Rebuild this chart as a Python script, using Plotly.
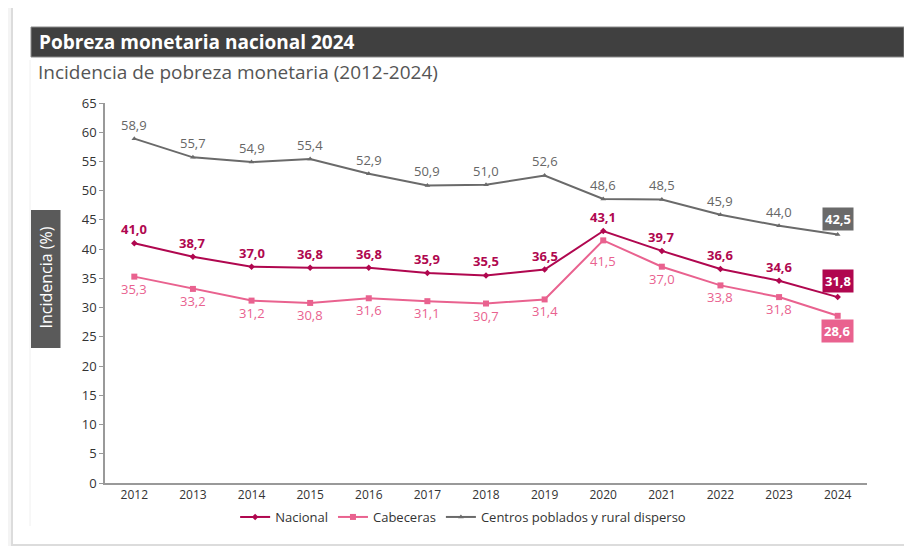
import plotly.graph_objects as go

years = ["2012", "2013", "2014", "2015", "2016", "2017", "2018", "2019", "2020", "2021", "2022", "2023", "2024"]
nacional = [41.0, 38.7, 37.0, 36.8, 36.8, 35.9, 35.5, 36.5, 43.1, 39.7, 36.6, 34.6, 31.8]
cabeceras = [35.3, 33.2, 31.2, 30.8, 31.6, 31.1, 30.7, 31.4, 41.5, 37.0, 33.8, 31.8, 28.6]
centros = [58.9, 55.7, 54.9, 55.4, 52.9, 50.9, 51.0, 52.6, 48.6, 48.5, 45.9, 44.0, 42.5]
y_ticks = list(range(0, 70, 5))

C_NAC = "#b0074f"
C_CAB = "#e9628f"
C_CEN = "#6a6a6a"
FONT = "Open Sans"

OFF = 8  # page body margin
W, H = 912 - OFF, 546 - OFF
L = 105 - OFF
T = 103 - OFF
R = W - (867 - OFF)
B = H - (483 - OFF)
pw, ph = W - L - R, H - T - B


def px(x):
    return (x - OFF - L) / pw


def py(y):
    return 1 - (y - OFF - T) / ph


fig = go.Figure()
fig.add_trace(go.Scatter(x=years, y=nacional, name="Nacional", mode="lines+markers",
                         line=dict(color=C_NAC, width=2),
                         marker=dict(symbol="diamond", size=5, color=C_NAC)))
fig.add_trace(go.Scatter(x=years, y=cabeceras, name="Cabeceras", mode="lines+markers",
                         line=dict(color=C_CAB, width=2),
                         marker=dict(symbol="square", size=6, color=C_CAB)))
fig.add_trace(go.Scatter(x=years, y=centros, name="Centros poblados y rural disperso", mode="lines+markers",
                         line=dict(color=C_CEN, width=2),
                         marker=dict(symbol="triangle-up", size=5, color=C_CEN)))

ann = []


def fmt(v):
    return f"{v:.1f}".replace(".", ",")


last = len(years) - 1
peak = nacional.index(max(nacional))
for i, v in enumerate(nacional):
    if i == last:
        ann.append(dict(x=i, y=v, text=f"<b>{fmt(v)}</b>", showarrow=False, yshift=16,
                        bgcolor=C_NAC, borderpad=2, font=dict(family=FONT, size=13, color="white")))
    else:
        ann.append(dict(x=i, y=v, text=f"<b>{fmt(v)}</b>", showarrow=False, yshift=14,
                        font=dict(family=FONT, size=13, color=C_NAC)))
for i, v in enumerate(cabeceras):
    if i == last:
        ann.append(dict(x=i, y=v, text=f"<b>{fmt(v)}</b>", showarrow=False, yshift=-15,
                        bgcolor=C_CAB, borderpad=2, font=dict(family=FONT, size=13, color="white")))
    else:
        ann.append(dict(x=i, y=v, text=fmt(v), showarrow=False, yshift=-21 if i == peak else -12,
                        font=dict(family=FONT, size=13, color=C_CAB)))
for i, v in enumerate(centros):
    if i == last:
        ann.append(dict(x=i, y=v, text=f"<b>{fmt(v)}</b>", showarrow=False, yshift=16,
                        bgcolor=C_CEN, borderpad=2, font=dict(family=FONT, size=13, color="white")))
    else:
        ann.append(dict(x=i, y=v, text=fmt(v), showarrow=False, yshift=14,
                        font=dict(family=FONT, size=13, color="#666666")))

# title, subtitle, y label
ann.append(dict(xref="paper", yref="paper", x=px(37), y=py(42), xanchor="left", yanchor="middle",
                text="<b>Pobreza monetaria nacional 2024</b>", showarrow=False,
                font=dict(family=FONT, size=19, color="white")))
ann.append(dict(xref="paper", yref="paper", x=px(36), y=py(72), xanchor="left", yanchor="middle",
                text="Incidencia de pobreza monetaria (2012-2024)", showarrow=False,
                font=dict(family=FONT, size=19, color="#555555")))
ann.append(dict(xref="paper", yref="paper", x=px(45.5), y=py(278), xanchor="center", yanchor="middle",
                text="Incidencia (%)", textangle=-90, showarrow=False,
                font=dict(family=FONT, size=16, color="white")))

shapes = [
    dict(type="rect", xref="paper", yref="paper", x0=px(12), x1=px(930), y0=py(4), y1=py(545),
         line=dict(color="#dcdcdc", width=2), fillcolor="white", layer="below"),
    dict(type="rect", xref="paper", yref="paper", x0=px(31), x1=px(904), y0=py(27), y1=py(57),
         line=dict(color="#8a8a8a", width=1), fillcolor="#404040", layer="below"),
    dict(type="rect", xref="paper", yref="paper", x0=px(31), x1=px(60.5), y0=py(210), y1=py(348),
         line=dict(width=0), fillcolor="#5a5a5a", layer="below"),
    dict(type="line", xref="paper", yref="paper", x0=px(30), x1=px(30), y0=py(60), y1=py(526),
         line=dict(color="#f0f0f0", width=1), layer="below"),
]

fig.update_layout(
    width=W, height=H,
    margin=dict(l=L, r=R, t=T, b=B),
    paper_bgcolor="#f4f4f4", plot_bgcolor="rgba(0,0,0,0)",
    font=dict(family=FONT, color="#333333"),
    showlegend=True,
    legend=dict(orientation="h", x=0.47, xanchor="center", y=py(517), yanchor="middle",
                font=dict(family=FONT, size=13, color="#333333"), bgcolor="rgba(0,0,0,0)",
                itemwidth=30, tracegroupgap=0),
    annotations=ann,
    shapes=shapes,
)
fig.update_xaxes(type="category", range=[-0.5, 12.5], showgrid=False, showline=True,
                 linecolor="#999999", linewidth=1.5, ticks="", tickfont=dict(size=12, color="#333333"),
                 zeroline=False)
fig.update_yaxes(range=[0, 65], tickvals=y_ticks, showgrid=False, showline=True,
                 linecolor="#999999", linewidth=1.5, ticks="outside", ticklen=4, tickcolor="#999999",
                 tickfont=dict(size=13, color="#333333"), zeroline=False)

fig.write_html("out.html")
